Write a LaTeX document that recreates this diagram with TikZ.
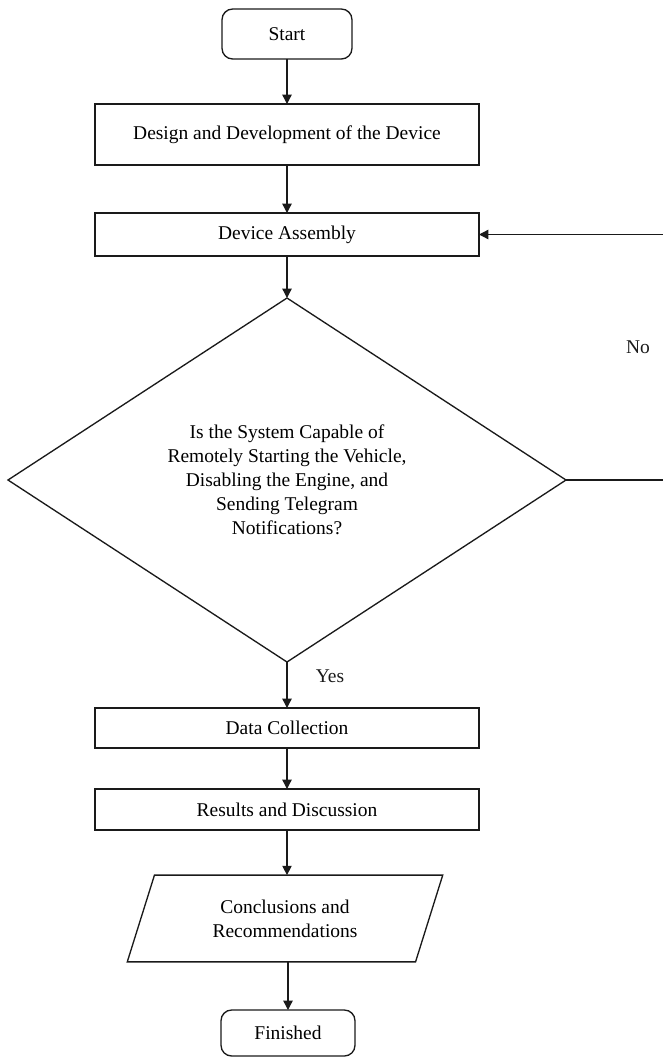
\documentclass[tikz,border=0pt]{standalone}
\usepackage{fontspec}
\setmainfont{Liberation Serif}
\usetikzlibrary{arrows.meta,shapes.geometric,calc,positioning}
\definecolor{ink}{HTML}{1A1A1A}
\tikzset{
  % ---- blocks ----------------------------------------------------
  terminal/.style  = {rectangle, rounded corners=8pt, draw=ink, line width=1pt,
                      inner sep=0pt, outer sep=0pt, align=center,
                      font=\fontsize{14.6}{18}\selectfont},
  process/.style   = {rectangle, draw=ink, line width=1pt, inner sep=0pt,
                      outer sep=0pt, minimum width=288pt, align=center,
                      font=\fontsize{14.6}{18}\selectfont},
  decision/.style  = {diamond, draw=ink, line width=1pt, inner sep=0pt,
                      outer sep=0pt, align=center,
                      minimum width=418.5pt, minimum height=273pt,
                      font=\fontsize{14.6}{18}\selectfont},
  iobox/.style     = {trapezium, trapezium left angle=72.6,
                      trapezium right angle=107.4,
                      trapezium stretches body=true, draw=ink,
                      line width=1pt, inner xsep=0pt, inner ysep=18.4pt,
                      outer sep=0pt, align=center, minimum width=236.6pt,
                      font=\fontsize{14.6}{18}\selectfont},
  % ---- connectors ------------------------------------------------
  flow/.style      = {draw=ink, line width=1pt,
                      -{Triangle[length=7pt,width=7pt]}},
  branch/.style    = {font=\fontsize{14.6}{18}\selectfont, text=ink,
                      inner sep=0pt},
}
\begin{document}
\begin{tikzpicture}[x=0.75pt,y=-0.75pt]
  \useasboundingbox (0,0) rectangle (662,1058);
  \node[terminal, minimum width=97.5pt, minimum height=37.5pt] (start) at (287,34) {Start};
  \node[process, minimum height=45.75pt] (design) at (287,134.5) {Design and Development of the Device};
  \node[process, minimum height=32.25pt] (assembly) at (287,234.5) {Device Assembly};
  \node[decision] (check) at (287,480) {Is the System Capable of\\Remotely Starting the Vehicle,\\Disabling the Engine, and\\Sending Telegram\\Notifications?};
  \node[process, minimum height=30pt] (data) at (287,728) {Data Collection};
  \node[process, minimum height=30.75pt] (results) at (287,809.5) {Results and Discussion};
  \node[iobox] (concl) at (285,918.5) {Conclusions and\\Recommendations};
  \node[terminal, minimum width=100.5pt, minimum height=34.5pt] (finish) at (288,1033) {Finished};
  \node[branch] (no) at (638,347) {No};
  \node[branch] (yes) at (330,676) {Yes};
  \coordinate (loop) at (668,0);
  \draw[flow] (start) -- (design);
  \draw[flow] (design) -- (assembly);
  \draw[flow] (assembly) -- (check);
  \draw[flow] (check.east) -- (check.east -| loop) -- (assembly.east -| loop) -- (assembly.east);
  \draw[flow] (check) -- (data);
  \draw[flow] (data) -- (results);
  \draw[flow] (results) -- (results |- concl.north);
  \draw[flow] (concl.south -| finish) -- (finish);
\end{tikzpicture}
\end{document}
